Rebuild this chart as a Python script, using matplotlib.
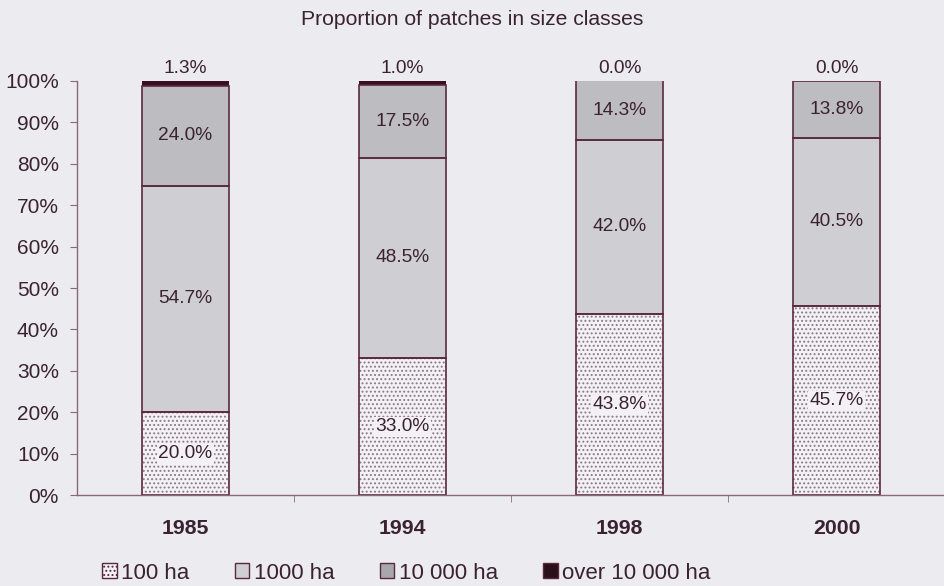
import numpy as np
import matplotlib
matplotlib.use("Agg")
import matplotlib.pyplot as plt
from matplotlib.patches import Patch

years = ["1985", "1994", "1998", "2000"]
ha100 = [20.0, 33.0, 43.8, 45.7]
ha1000 = [54.7, 48.5, 42.0, 40.5]
ha10000 = [24.0, 17.5, 14.3, 13.8]
over10000 = [1.3, 1.0, 0.0, 0.0]
legend_labels = ["100 ha", "1000 ha", "10 000 ha", "over 10 000 ha"]

bg = "#ebebf0"
ink = "#3a2231"
edge = "#5a2a3c"
dotbg = "#f3f1f5"

plt.rcParams["font.family"] = ["Liberation Sans", "DejaVu Sans"]
plt.rcParams["hatch.linewidth"] = 0.9

fig = plt.figure(figsize=(9.45, 5.86), dpi=100, facecolor=bg)
ax = fig.add_axes([0.0815, 0.155, 0.9185, 0.707], facecolor=bg)

x = np.arange(len(years))
w = 0.405

s1 = np.array(ha100)
s2 = np.array(ha1000)
s3 = np.array(ha10000)
s4 = np.array(over10000)

# dotted bottom segment
ax.bar(x, s1, w, color=dotbg, hatch="....", edgecolor="#8a7a88", linewidth=0)
ax.bar(x, s2, w, bottom=s1, color="#cfcfd3", linewidth=0)
ax.bar(x, s3, w, bottom=s1 + s2, color="#bdbdc1", linewidth=0)
ax.bar(x, s4, w, bottom=s1 + s2 + s3, color="#3a1020", linewidth=0)
# outlines
for bottom, h in [(0, s1), (s1, s2), (s1 + s2, s3)]:
    ax.bar(x, h, w, bottom=bottom, fill=False, edgecolor=edge, linewidth=1.2)

# labels
fs = 13.8
for i in range(len(years)):
    ax.text(x[i], s1[i] / 2, f"{s1[i]:.1f}%", ha="center", va="center", fontsize=fs, color=ink,
            bbox=dict(facecolor=dotbg, edgecolor="none", pad=1.0))
    ax.text(x[i], s1[i] + s2[i] / 2, f"{s2[i]:.1f}%", ha="center", va="center", fontsize=fs, color=ink)
    ax.text(x[i], s1[i] + s2[i] + s3[i] / 2, f"{s3[i]:.1f}%", ha="center", va="center", fontsize=fs, color=ink)
    ax.text(x[i], 103.0, f"{s4[i]:.1f}%", ha="center", va="center", fontsize=fs, color=ink)

ax.set_xlim(-0.5, 3.5)
ax.set_ylim(0, 100)
ax.set_yticks(np.arange(0, 101, 10))
ax.set_yticklabels([f"{v}%" for v in range(0, 101, 10)])
ax.set_xticks(x)
ax.set_xticklabels(years, fontweight="bold")
ax.set_xticks(x[:-1] + 0.5, minor=True)
ax.tick_params(axis="x", which="major", length=0, pad=17, labelsize=15.3, labelcolor=ink)
ax.tick_params(axis="x", which="minor", length=5, color="#8a6a7a")
ax.tick_params(axis="y", length=5, pad=8, labelsize=15, labelcolor=ink, color="#8a6a7a")
for s in ["top", "right"]:
    ax.spines[s].set_visible(False)
for s in ["left", "bottom"]:
    ax.spines[s].set_color("#8a6a7a")
    ax.spines[s].set_linewidth(1.0)

fig.text(0.5, 0.967, "Proportion of patches in size classes", ha="center", va="center", fontsize=15.2, color=ink)

handles = [
    Patch(facecolor=dotbg, hatch="....", edgecolor=edge),
    Patch(facecolor="#cfcfd3", edgecolor=edge),
    Patch(facecolor="#a8a8ac", edgecolor=edge),
    Patch(facecolor="#2a1018", edgecolor=edge),
]
fig.legend(handles, legend_labels, loc="center left", bbox_to_anchor=(0.108, 0.022), ncol=4, frameon=False,
           fontsize=16, handlelength=0.65, handleheight=0.65, handletextpad=0.2, columnspacing=2.05,
           labelcolor=ink, borderaxespad=0, borderpad=0)

fig.savefig("out.png", dpi=100, facecolor=bg)
